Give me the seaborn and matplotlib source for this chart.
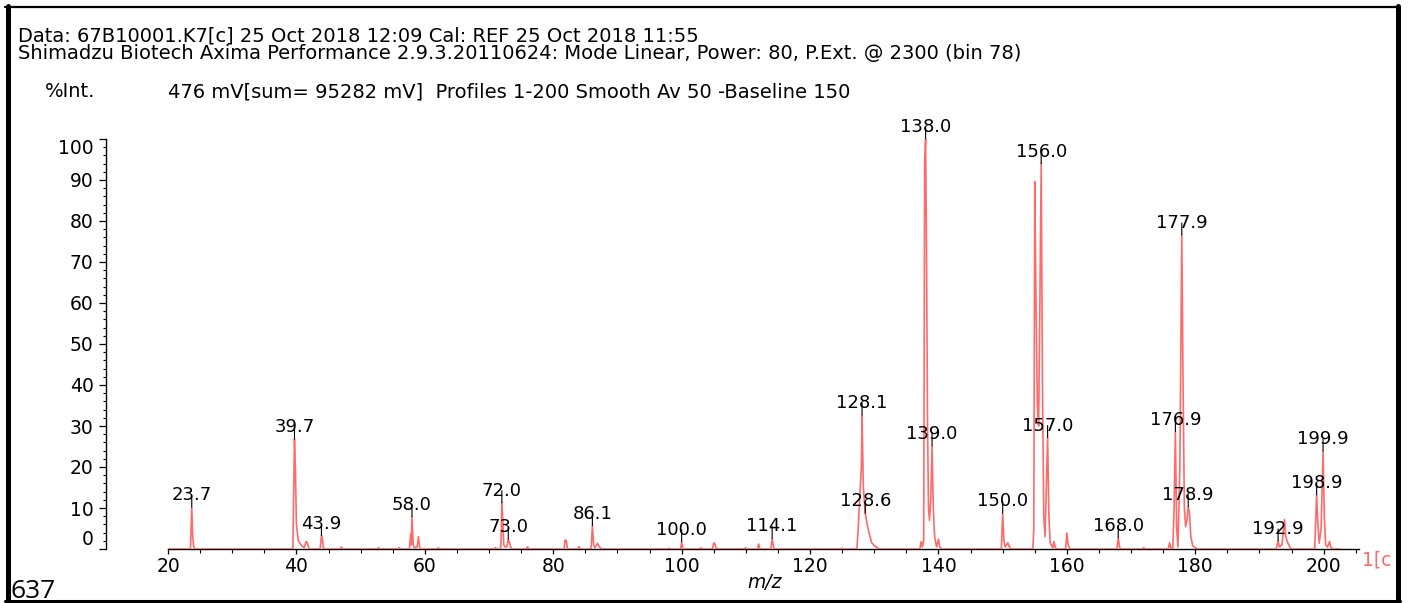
import matplotlib
matplotlib.use("Agg")
import matplotlib.pyplot as plt
import seaborn as sns
import pandas as pd
from matplotlib.lines import Line2D
from matplotlib.ticker import MultipleLocator

W, H = 1409, 603

header_1 = "Data: 67B10001.K7[c] 25 Oct 2018 12:09 Cal: REF 25 Oct 2018 11:55"
header_2 = "Shimadzu Biotech Axima Performance 2.9.3.20110624: Mode Linear, Power: 80, P.Ext. @ 2300 (bin 78)"
header_3 = "476 mV[sum= 95282 mV]  Profiles 1-200 Smooth Av 50 -Baseline 150"

# spectrum trace vertices (m/z, %Int.)
trace_mz = [20.0,
            23.5, 23.7, 23.85, 24.0, 24.2,
            39.45, 39.7, 39.85, 40.0, 40.3, 40.7, 41.2, 41.5, 41.7, 41.9, 42.1,
            43.7, 43.9, 44.05, 44.2, 44.5,
            46.8, 47.0, 47.2, 52.6, 52.8, 53.0, 55.8, 56.0, 56.2,
            57.6, 57.8, 57.9, 58.0, 58.2, 58.4, 58.8, 59.0, 59.2, 59.4,
            61.9, 62.1, 62.3, 70.8, 71.0, 71.2,
            71.8, 71.9, 72.0, 72.15, 72.3, 72.5, 72.8, 73.0, 73.2, 73.4, 73.6,
            75.8, 76.0, 76.2,
            81.7, 81.85, 82.05, 82.2, 83.8, 84.0, 84.2,
            85.9, 86.1, 86.3, 86.5, 86.9, 87.2, 87.5,
            97.8, 98.0, 98.2, 99.85, 100.0, 100.2, 102.8, 103.0, 103.2,
            104.8, 105.0, 105.2, 105.4, 109.8, 110.0, 110.2, 111.8, 112.0, 112.2,
            113.9, 114.1, 114.3, 114.5, 124.8, 125.0, 125.2,
            127.3, 127.5, 127.8, 128.0, 128.1, 128.3, 128.6, 128.9, 129.2, 129.6, 130.2, 130.8,
            137.1, 137.3, 137.5, 137.7, 137.85, 138.0, 138.15, 138.3, 138.45, 138.6, 138.8,
            139.0, 139.2, 139.4, 139.7, 140.0, 140.2, 140.5,
            149.8, 150.0, 150.2, 150.4, 150.8, 151.1, 151.4,
            154.7, 154.85, 155.0, 155.2, 155.4, 155.6, 155.8, 156.0, 156.2, 156.4, 156.6,
            156.8, 157.0, 157.2, 157.4, 157.8, 158.0, 158.2, 158.5,
            159.8, 160.0, 160.2, 160.5, 167.8, 168.0, 168.2, 168.4, 171.8, 172.0, 172.2,
            175.8, 176.0, 176.2, 176.5, 176.7, 176.9, 177.1, 177.3, 177.6, 177.9, 178.1,
            178.3, 178.5, 178.7, 178.9, 179.1, 179.3, 179.6, 180.0, 180.4,
            192.6, 192.9, 193.1, 193.5, 193.9, 194.1, 194.4, 194.7, 195.0,
            198.6, 198.9, 199.1, 199.3, 199.6, 199.9, 200.1, 200.3, 200.6, 200.9, 201.1, 201.4,
            202.5]
trace_int = [0.0,
             0.0, 10.2, 3.0, 0.5, 0.0,
             0.0, 26.8, 19.0, 6.0, 2.0, 1.0, 0.3, 1.8, 1.6, 0.3, 0.0,
             0.0, 3.3, 2.5, 0.3, 0.0,
             0.0, 0.5, 0.0, 0.0, 0.3, 0.0, 0.0, 0.3, 0.0,
             0.0, 3.7, 1.0, 7.9, 1.0, 0.3, 0.5, 3.0, 0.3, 0.0,
             0.0, 0.3, 0.0, 0.0, 0.3, 0.0,
             0.0, 3.0, 11.3, 6.7, 1.0, 0.5, 0.6, 2.4, 1.5, 0.3, 0.0,
             0.0, 0.5, 0.0,
             0.0, 2.2, 2.0, 0.0, 0.0, 0.6, 0.0,
             0.0, 5.7, 1.0, 0.3, 1.4, 0.5, 0.0,
             0.0, 0.2, 0.0, 0.0, 1.8, 0.0, 0.0, 0.3, 0.0,
             0.0, 1.5, 1.2, 0.0, 0.0, 0.3, 0.0, 0.0, 1.2, 0.0,
             0.0, 2.6, 0.5, 0.0, 0.0, 0.2, 0.0,
             0.0, 5.0, 14.4, 20.0, 32.7, 15.0, 8.7, 6.0, 3.9, 1.5, 0.6, 0.0,
             0.0, 1.8, 0.5, 2.0, 94.5, 100.0, 70.0, 30.0, 10.0, 7.0, 12.0,
             25.2, 10.0, 3.0, 0.5, 2.4, 0.5, 0.0,
             0.0, 8.7, 2.0, 0.5, 1.5, 0.3, 0.0,
             0.0, 5.0, 89.6, 60.0, 35.0, 30.0, 60.0, 94.0, 40.0, 8.0, 3.0,
             15.0, 27.2, 8.0, 1.5, 0.3, 1.8, 0.3, 0.0,
             0.0, 3.9, 1.0, 0.0, 0.0, 2.8, 0.5, 0.0, 0.0, 0.3, 0.0,
             0.0, 1.5, 0.3, 0.0, 10.0, 28.6, 5.0, 0.5, 20.0, 76.6, 40.0,
             10.0, 5.4, 7.0, 10.3, 8.8, 3.0, 0.8, 0.3, 0.0,
             0.0, 2.0, 0.5, 1.0, 7.2, 3.0, 1.5, 0.5, 0.0,
             0.0, 13.2, 6.0, 1.4, 5.0, 23.9, 8.0, 1.0, 0.5, 1.8, 0.5, 0.0,
             0.0]

label_mz = [23.7, 39.7, 43.9, 58.0, 72.0, 73.0, 86.1, 100.0, 114.1, 128.1, 128.6,
            138.0, 139.0, 150.0, 156.0, 157.0, 168.0, 176.9, 177.9, 178.9,
            192.9, 198.9, 199.9]
label_text = ["23.7", "39.7", "43.9", "58.0", "72.0", "73.0", "86.1", "100.0", "114.1",
              "128.1", "128.6", "138.0", "139.0", "150.0", "156.0", "157.0", "168.0",
              "176.9", "177.9", "178.9", "192.9", "198.9", "199.9"]

x_ticks = [20, 40, 60, 80, 100, 120, 140, 160, 180, 200]
y_ticks = [0, 10, 20, 30, 40, 50, 60, 70, 80, 90, 100]

RED = "#ff6b6b"

sns.set_style("ticks")
plt.rcParams['font.family'] = ['DejaVu Sans']
plt.rcParams['text.color'] = 'black'
plt.rcParams['xtick.color'] = 'black'
plt.rcParams['ytick.color'] = 'black'
plt.rcParams['xtick.labelcolor'] = 'black'
plt.rcParams['ytick.labelcolor'] = 'black'


def fx(px):
    return px / W


def fy(py):
    return 1 - py / H


df = pd.DataFrame({'mz': trace_mz, 'inten': trace_int})
peak_of = dict(zip(trace_mz, trace_int))

fig = plt.figure(figsize=(W / 100, H / 100), dpi=100, facecolor="w")
ax = fig.add_axes([fx(168), fy(549), fx(1359) - fx(168), fy(139) - fy(549)])

sns.lineplot(x='mz', y='inten', data=df, estimator=None, sort=False,
             color=RED, linewidth=1.2, ax=ax, zorder=3)

ax.set_xlim(20, 205.5)
ax.set_ylim(0, 100)
ax.set_xlabel('')
ax.set_ylabel('')

for s in ["right", "top"]:
    ax.spines[s].set_visible(False)
ax.spines["left"].set_position(('outward', 44.6))
ax.spines["left"].set_bounds(0, 100)
for s in ["left", "bottom"]:
    ax.spines[s].set_linewidth(1.0)
    ax.spines[s].set_color("black")

ax.set_xticks(x_ticks)
ax.set_yticks(y_ticks)
ax.xaxis.set_minor_locator(MultipleLocator(5))
ax.yaxis.set_minor_locator(MultipleLocator(2))
ax.tick_params(axis='y', which='major', length=5, width=0.9, pad=4, labelsize=13.5, direction='out')
ax.tick_params(axis='y', which='minor', length=2.5, width=0.8, direction='out')
ax.tick_params(axis='x', which='major', length=3.6, width=0.9, pad=2, labelsize=13.5, direction='out')
ax.tick_params(axis='x', which='minor', length=2.8, width=0.8, direction='out')
ylabels = ax.get_yticklabels()
ylabels[0].set_verticalalignment('bottom')
ylabels[-1].set_verticalalignment('top')

for m, t in zip(label_mz, label_text):
    ax.annotate(t, xy=(m, peak_of[m]), xytext=(0, 5), textcoords='offset points',
                ha='center', va='baseline', fontsize=13, color='black',
                arrowprops=dict(arrowstyle='-', lw=0.8, color='black', shrinkA=0, shrinkB=0),
                annotation_clip=False, zorder=4)

# header texts
fig.text(fx(18), fy(42), header_1, fontsize=14, va='baseline', ha='left')
fig.text(fx(18), fy(59), header_2, fontsize=14, va='baseline', ha='left')
fig.text(fx(45), fy(97), "%Int.", fontsize=14, va='baseline', ha='left')
fig.text(fx(168), fy(97), header_3, fontsize=14, va='baseline', ha='left')
fig.text(fx(765), fy(583), "m/z", fontsize=13.5, style='italic', ha='center', va='center')
fig.text(fx(1362), fy(560), "1[c", fontsize=13.5, color=RED, ha='left', va='center')
fig.text(fx(10), fy(598), "637", fontsize=19, family='Open Sans', ha='left', va='baseline')

# frame around the picture
fig.add_artist(Line2D([fx(7.5), fx(7.5)], [fy(6), fy(602)], color='black', lw=3.6, transform=fig.transFigure))
fig.add_artist(Line2D([fx(5), fx(1400)], [fy(7), fy(7)], color='black', lw=1.6, transform=fig.transFigure))
fig.add_artist(Line2D([fx(1397.5), fx(1397.5)], [fy(6), fy(602)], color='black', lw=3.6, transform=fig.transFigure))
fig.add_artist(Line2D([fx(5), fx(1400)], [fy(600.5), fy(600.5)], color='black', lw=2.2, transform=fig.transFigure))

fig.savefig("out.png", dpi=100, facecolor="w")
